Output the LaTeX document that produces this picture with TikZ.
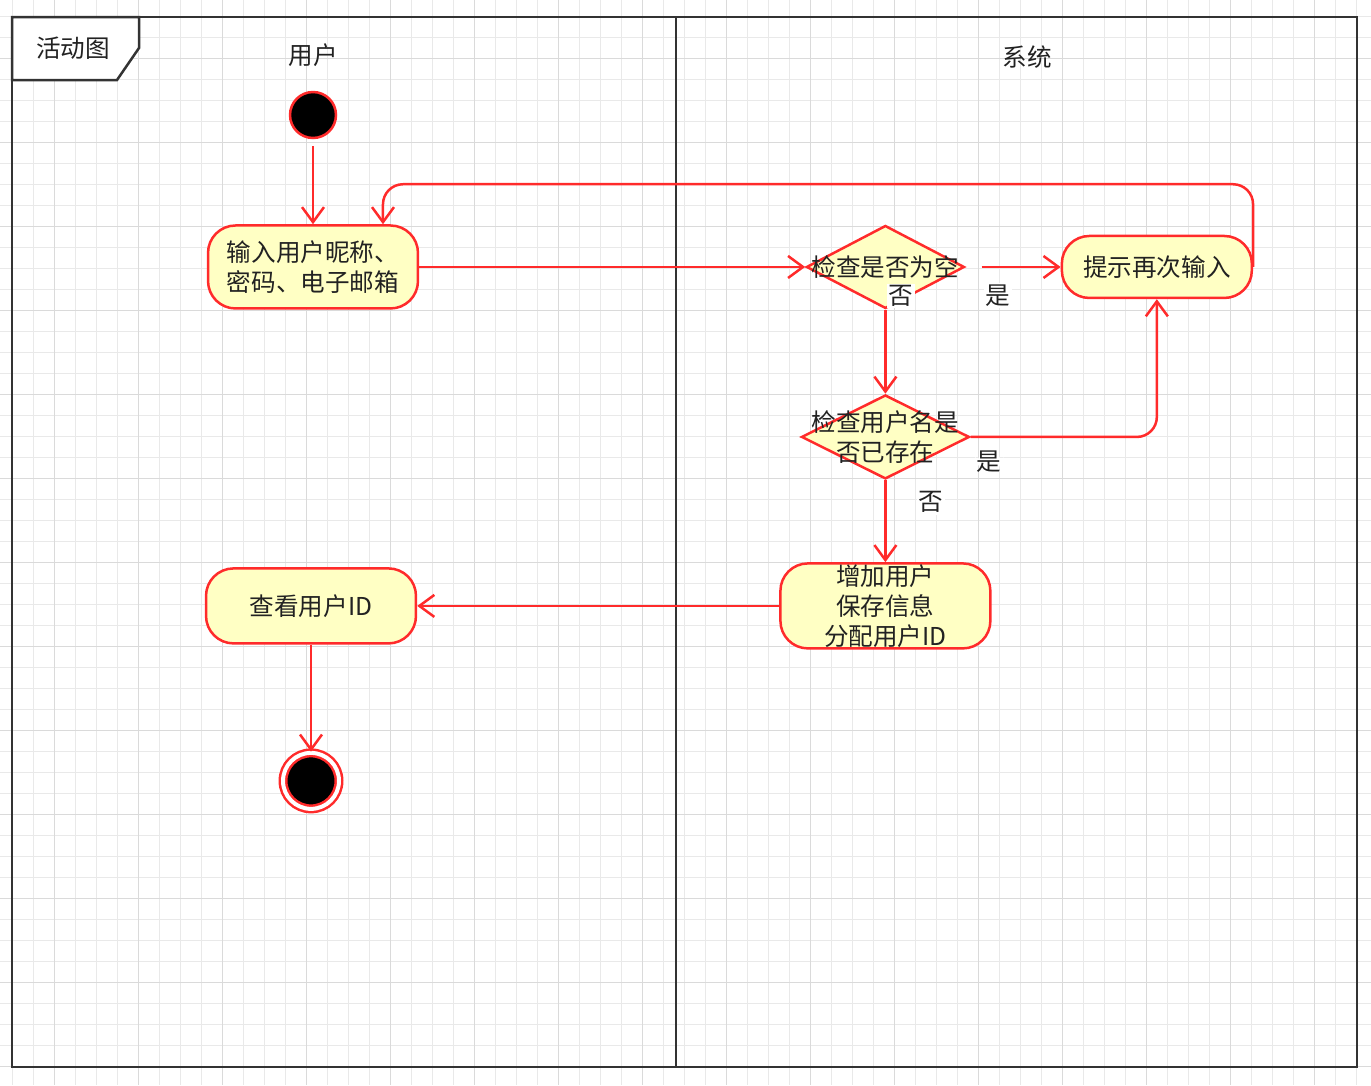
\documentclass[tikz,border=0pt]{standalone}
\usepackage{fontspec}
\setmainfont{Noto Sans CJK SC}
\usepackage{tikz}
\usetikzlibrary{arrows.meta, positioning, shapes.geometric}
\definecolor{flowred}{HTML}{FF2B2B}
\definecolor{actfill}{HTML}{FFFFC4}
\definecolor{framegray}{HTML}{333333}
\definecolor{textgray}{HTML}{222222}
\definecolor{gridminor}{HTML}{E9E9E9}
\definecolor{gridmajor}{HTML}{DADADA}

\begin{document}
\begin{tikzpicture}[
    x=0.02cm, y=-0.02cm,
    act/.style = {rectangle, rounded corners=0.55cm, draw=flowred, fill=actfill,
                  line width=0.05cm, align=center, inner sep=0pt, minimum width=4.2cm},
    decide/.style = {diamond, draw=flowred, fill=actfill, line width=0.05cm, inner sep=0pt},
    startdot/.style = {circle, draw=flowred, fill=black, line width=0.05cm,
                       inner sep=0pt, minimum size=0.92cm},
    stopdot/.style = {circle, draw=flowred, double=white, double distance=0.08cm,
                      fill=black, line width=0.05cm, inner sep=0pt, minimum size=1.12cm},
    flow/.style = {flowred, line width=0.05cm, -{Straight Barb[length=0.3cm, width=0.44cm]}},
    lbl/.style = {fill=white, text=textgray, inner sep=1pt},
    frame/.style = {framegray, line width=0.05cm},
    text=textgray,
    font=\fontsize{14pt}{17pt}\selectfont
    ]

  \useasboundingbox (0,0) rectangle (1371,1085);

  % grid
  \foreach \gx in {12,33,...,1371} \draw[gridminor, line width=0.02cm] (\gx,0) -- (\gx,1085);
  \foreach \gy in {16,37,...,1085} \draw[gridminor, line width=0.02cm] (0,\gy) -- (1371,\gy);
  \foreach \gx in {54,138,...,1371} \draw[gridmajor, line width=0.02cm] (\gx,0) -- (\gx,1085);
  \foreach \gy in {58,142,...,1085} \draw[gridmajor, line width=0.02cm] (0,\gy) -- (1371,\gy);

  % frame and lanes
  \draw[frame] (12,17) rectangle (1357,1067);
  \draw[frame] (676,17) -- (676,1067);
  \draw[frame, fill=white] (12,17) -- (139,17) -- (139,48) -- (117,80) -- (12,80) -- cycle;
  \node (tabtitle) at (73,48) {活动图};
  \node (userlane) at (313,55) {用户};
  \node (syslane) at (1027,57) {系统};

  \node[startdot] (start) at (313,115) {};
  \node[act, minimum height=1.66cm] (input) [below=1.7cm of start] {输入用户昵称、\\密码、电子邮箱};

  \node[decide, minimum width=3.16cm, minimum height=1.66cm,
        label=center:检查是否为空] (check1) [right=7.72cm of input] {};
  \node[act, minimum width=3.8cm, minimum height=1.24cm] (retry) [right=1.9cm of check1] {提示再次输入};
  \node[decide, minimum width=3.36cm, minimum height=1.68cm,
        label={[align=center]center:{检查用户名是\\否已存在}}] (check2) [below=1.68cm of check1] {};
  \node[act, minimum height=1.7cm] (adduser) [below=1.64cm of check2] {增加用户\\保存信息\\分配用户ID};

  \node[act, minimum height=1.5cm] (viewid) [left=7.24cm of adduser] {查看用户ID};
  \node[stopdot] (stop) [below=2.14cm of viewid] {};

  \draw[flow, shorten <=0.14cm] (start) -- (input);
  \draw[flow] (input) -- (check1);
  \draw[flow, shorten <=0.32cm] (check1) -- (retry) node[lbl, pos=0.34, below=0.3cm] {是};
  \draw[flow] (check1) -- (check2) node[lbl, pos=0, above right] {否};
  \draw[flow, rounded corners=0.4cm] (check2) -| (retry) node[lbl, pos=0.05, below=0.22cm] {是};
  \draw[flow] (check2) -- (adduser) node[lbl, pos=0.27, right=0.6cm] {否};
  \draw[flow] (adduser) -- (viewid);
  \draw[flow] (viewid) -- (stop);
  \draw[flow, rounded corners=0.4cm] (retry.east) |- ([shift={(1.4cm,0.8cm)}]input.north)
    -- ([xshift=1.4cm]input.north);

\end{tikzpicture}
\end{document}
